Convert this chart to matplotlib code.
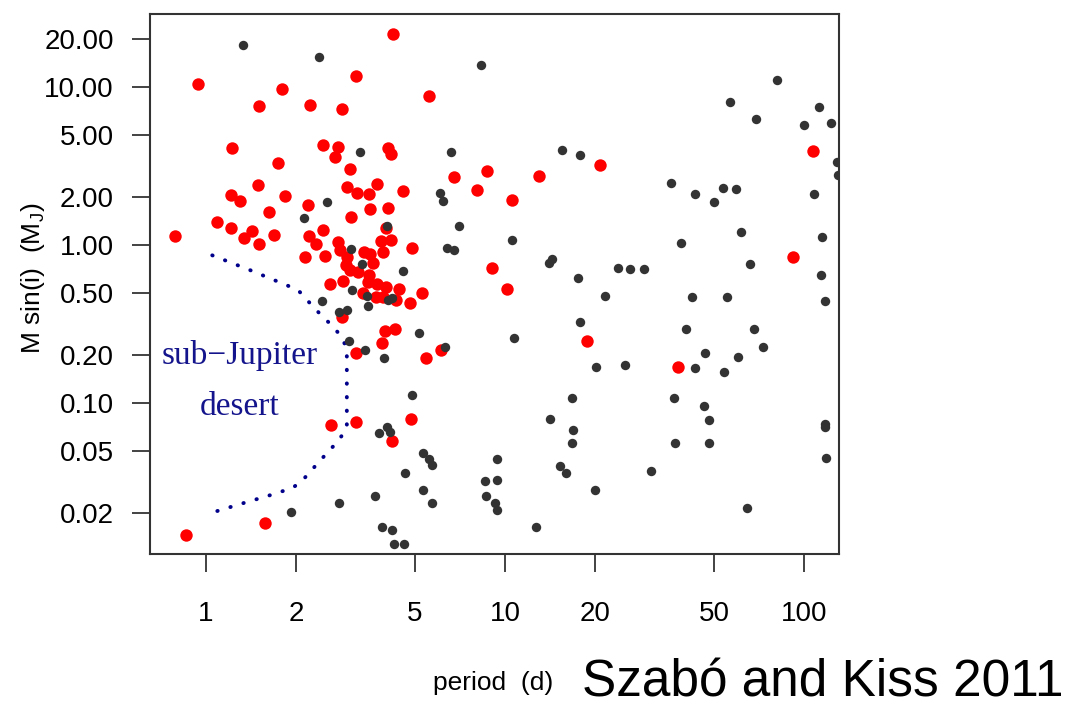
import matplotlib
matplotlib.use("Agg")
import matplotlib.pyplot as plt

plt.rcParams['font.family'] = ['Liberation Sans', 'DejaVu Sans']
plt.rcParams['mathtext.fontset'] = 'custom'
plt.rcParams['mathtext.rm'] = 'Liberation Sans'
plt.rcParams['mathtext.default'] = 'regular'

# hot jupiters / desert planets (red)
red_period = [4.22, 0.94, 3.18, 1.80, 5.57, 1.50, 2.23, 2.85, 1.22, 2.46,
              2.76, 2.70, 4.06, 4.16, 1.74, 3.03, 6.75, 8.71, 8.06, 1.49,
              1.21, 1.30, 1.84, 2.96, 3.20, 3.51, 3.73, 4.56, 1.62, 2.19,
              3.54, 4.06, 3.05, 1.09, 1.21, 1.43, 1.34, 1.50, 1.69, 0.79,
              2.21, 2.33, 2.46, 2.14, 2.50, 4.00, 2.76, 3.85, 4.16, 4.89,
              9.05, 2.60, 2.87, 5.28, 4.42, 2.81, 3.38, 3.54, 3.91, 2.96,
              2.94, 3.62, 3.03, 3.22, 3.51, 3.48, 3.73, 4.00, 3.35, 3.70,
              3.91, 4.81, 4.32, 2.85, 3.97, 4.29, 3.88, 3.18, 5.44, 6.11,
              2.62, 3.18, 4.85, 4.19, 1.58, 0.857, 13.0, 10.6, 20.8, 107,
              10.2, 91.9, 18.8, 37.9]
red_mass = [21.6, 10.4, 11.7, 9.7, 8.77, 7.58, 7.69, 7.26, 4.11, 4.30,
            4.17, 3.61, 4.11, 3.77, 3.30, 3.03, 2.69, 2.94, 2.23, 2.40,
            2.07, 1.90, 2.04, 2.33, 2.13, 2.10, 2.43, 2.20, 1.62, 1.79,
            1.69, 1.71, 1.50, 1.40, 1.28, 1.23, 1.11, 1.01, 1.16, 1.14,
            1.14, 1.01, 1.24, 0.84, 0.85, 1.28, 1.04, 1.06, 1.08, 0.96,
            0.72, 0.57, 0.59, 0.50, 0.53, 0.93, 0.90, 0.88, 0.90, 0.84,
            0.75, 0.77, 0.69, 0.67, 0.65, 0.58, 0.57, 0.54, 0.50, 0.47,
            0.47, 0.43, 0.45, 0.35, 0.286, 0.294, 0.24, 0.207, 0.193, 0.216,
            0.0726, 0.0758, 0.0792, 0.0575, 0.0174, 0.0146, 2.73, 1.93, 3.21, 3.94,
            0.53, 0.84, 0.247, 0.169]

# other planets (black)
black_period = [1.33, 2.39, 8.31, 3.27, 6.60, 2.54, 2.13, 6.06, 6.21, 7.02,
                4.03, 3.05, 6.40, 6.75, 3.32, 4.56, 3.08, 3.45, 2.44, 3.48,
                4.06, 4.19, 2.79, 2.96, 3.01, 3.40, 3.94, 5.16, 6.30, 4.89,
                3.79, 4.03, 4.12, 5.32, 5.57, 5.70, 4.63, 5.32, 5.70, 9.40,
                8.57, 9.40, 8.64, 9.26, 9.40, 3.67, 2.79, 1.92, 3.88, 4.19,
                4.25, 4.59, 81.2, 56.6, 69.1, 112, 100, 123, 15.5, 17.8,
                129, 130, 35.9, 43.2, 53.6, 59.2, 50.0, 108, 10.6, 61.5,
                38.8, 14.0, 14.4, 23.9, 26.2, 29.2, 17.5, 66.0, 115, 114,
                21.6, 42.2, 55.3, 118, 17.8, 10.7, 40.3, 68.0, 72.9, 46.7,
                60.1, 20.2, 25.2, 43.2, 54.0, 16.8, 36.7, 46.3, 48.1, 14.1,
                16.9, 16.8, 37.0, 48.1, 118, 118, 119, 15.3, 16.0, 30.8,
                20.0, 64.5, 12.7]
black_mass = [18.4, 15.5, 13.8, 3.88, 3.88, 1.87, 1.48, 2.13, 1.90, 1.32,
              1.32, 0.94, 0.96, 0.93, 0.76, 0.68, 0.52, 0.475, 0.44, 0.41,
              0.45, 0.46, 0.377, 0.39, 0.247, 0.216, 0.193, 0.277, 0.226, 0.112,
              0.0646, 0.0705, 0.0656, 0.0483, 0.0442, 0.0405, 0.0361, 0.0281, 0.0233, 0.0442,
              0.0321, 0.0326, 0.0258, 0.0233, 0.0210, 0.0258, 0.0233, 0.0204, 0.0164, 0.0157,
              0.0128, 0.0128, 11.1, 8.04, 6.27, 7.47, 5.75, 5.92, 3.99, 3.71,
              3.35, 2.77, 2.47, 2.10, 2.30, 2.26, 1.87, 2.10, 1.08, 1.21,
              1.03, 0.77, 0.815, 0.72, 0.705, 0.705, 0.62, 0.76, 1.12, 0.646,
              0.475, 0.47, 0.47, 0.44, 0.326, 0.258, 0.294, 0.294, 0.226, 0.207,
              0.195, 0.169, 0.174, 0.167, 0.157, 0.108, 0.108, 0.0958, 0.078, 0.0792,
              0.0675, 0.0558, 0.0558, 0.0558, 0.0736, 0.0705, 0.0449, 0.0399, 0.0361, 0.0371,
              0.0281, 0.0216, 0.0164]

# boundary of the sub-Jupiter desert
desert_period = [1.05, 1.40, 2.03, 2.33, 2.68, 2.85, 2.96, 2.96, 2.96,
                 2.78, 2.42, 2.11, 1.95, 1.62, 1.34, 1.0]
desert_mass = [0.86, 0.695, 0.52, 0.39, 0.30, 0.26, 0.22, 0.12, 0.0695,
               0.058, 0.0436, 0.0326, 0.029, 0.0259, 0.0233, 0.0197]

xticks = [1, 2, 5, 10, 20, 50, 100]
yticks = [0.02, 0.05, 0.1, 0.2, 0.5, 1, 2, 5, 10, 20]

fig = plt.figure(figsize=(10.76, 7.10), dpi=100)
ax = fig.add_axes([0.1394, 0.2197, 0.6403, 0.7606])

ax.plot(desert_period, desert_mass, color='#00008b', lw=2.8,
        ls=(0, (0.1, 3.4)), dash_capstyle='round')
ax.scatter(red_period, red_mass, s=80, color='#ff0000', linewidths=0, zorder=3)
ax.scatter(black_period, black_mass, s=46, color='#333333', linewidths=0, zorder=4)

ax.set_xscale('log')
ax.set_yscale('log')
ax.set_xlim(0.65, 131)
ax.set_ylim(0.01107, 28.97)
ax.minorticks_off()
ax.set_xticks(xticks)
ax.set_xticklabels([str(t) for t in xticks])
ax.set_yticks(yticks)
ax.set_yticklabels(['%.2f' % t for t in yticks])
ax.tick_params(axis='both', length=13, width=1.2, color='#222222', labelsize=20)
ax.tick_params(axis='x', pad=21)
ax.tick_params(axis='y', pad=13)
for sp in ax.spines.values():
    sp.set_linewidth(1.5)
    sp.set_color('#333333')

ax.text(0.1306, 0.3667, 'sub\u2212Jupiter', transform=ax.transAxes, ha='center', va='center',
        fontsize=24, color='#14148c', family=['Liberation Serif', 'DejaVu Serif'])
ax.text(0.1306, 0.272, 'desert', transform=ax.transAxes, ha='center', va='center',
        fontsize=24, color='#14148c', family=['Liberation Serif', 'DejaVu Serif'])

fig.text(33 / 1076, 1 - 278 / 710, r'M sin(i)  (M$_{J}$)', rotation=90,
         ha='center', va='center', fontsize=19)
fig.text(0.458, 0.028, 'period  (d)', ha='center', va='baseline', fontsize=19)
fig.text(0.541, 0.003, 'Szabó and Kiss 2011', ha='left', va='bottom', fontsize=37)

fig.savefig('out.png', dpi=100)
